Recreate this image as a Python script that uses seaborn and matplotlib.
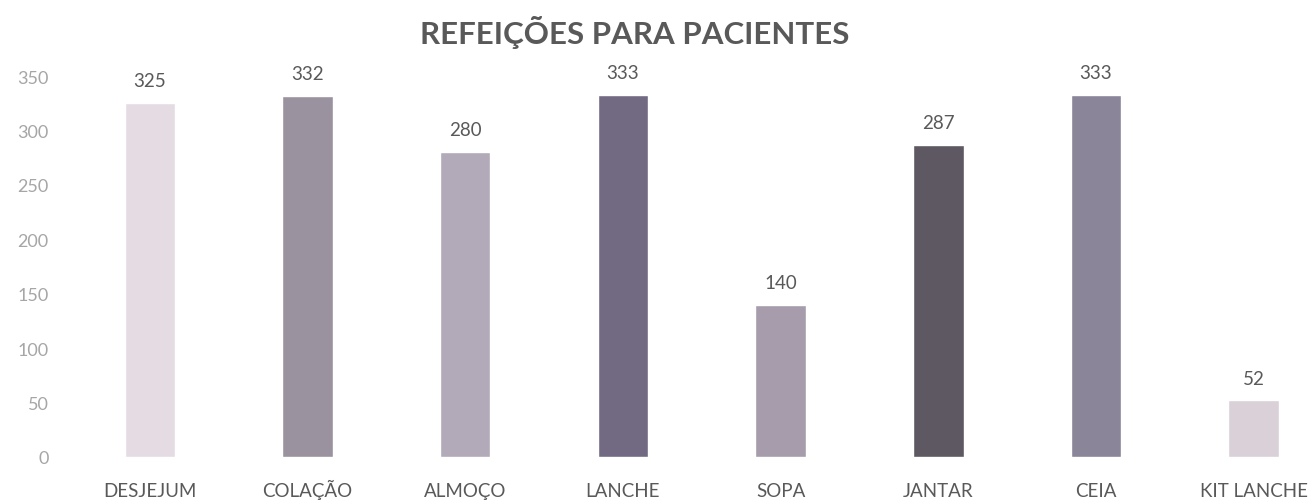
import matplotlib
matplotlib.use("Agg")
import matplotlib.pyplot as plt
import seaborn as sns
import pandas as pd

# --- Data ---
refeicoes = ["DESJEJUM", "COLAÇÃO", "ALMOÇO", "LANCHE", "SOPA", "JANTAR", "CEIA", "KIT LANCHE"]
quantidades = [325, 332, 280, 333, 140, 287, 333, 52]
cores = ["#e4dce2", "#9b92a0", "#b2aab9", "#716a82", "#a69cac", "#5e5862", "#8b859a", "#d9d1d7"]
y_ticks = [0, 50, 100, 150, 200, 250, 300, 350]

df = pd.DataFrame({"refeicao": refeicoes, "qtd": quantidades})

sns.set_style("white")
plt.rcParams["font.family"] = ["Lato", "DejaVu Sans"]

fig = plt.figure(figsize=(13.13, 5.02), dpi=100)
ax = fig.add_axes([71 / 1313, 44 / 502, 1242 / 1313, 381 / 502])

sns.barplot(data=df, x="refeicao", y="qtd", hue="refeicao", palette=cores,
            legend=False, width=0.32, saturation=1, ax=ax)

for i, v in enumerate(quantidades):
    ax.annotate(str(v), (i, v), xytext=(0, 16), textcoords="offset points",
                ha="center", va="center", fontsize=13.5, color="#595959",
                annotation_clip=False)

ax.set_xlim(-0.5, 7.376)
ax.set_ylim(0, 350)
ax.set_yticks(y_ticks)
ax.set_xlabel("")
ax.set_ylabel("")
ax.tick_params(axis="y", length=0, pad=16, labelsize=13, labelcolor="#a6a6a6")
ax.tick_params(axis="x", length=0, pad=28, labelsize=13.5, labelcolor="#595959")
for lbl in ax.get_xticklabels():
    lbl.set_verticalalignment("baseline")
sns.despine(ax=ax, left=True, bottom=True)

fig.text(635 / 1313, 1 - 33 / 502, "REFEIÇÕES PARA PACIENTES", ha="center", va="center",
         fontsize=22.5, fontweight="bold", color="#595959")

fig.savefig("out.png", dpi=100)
